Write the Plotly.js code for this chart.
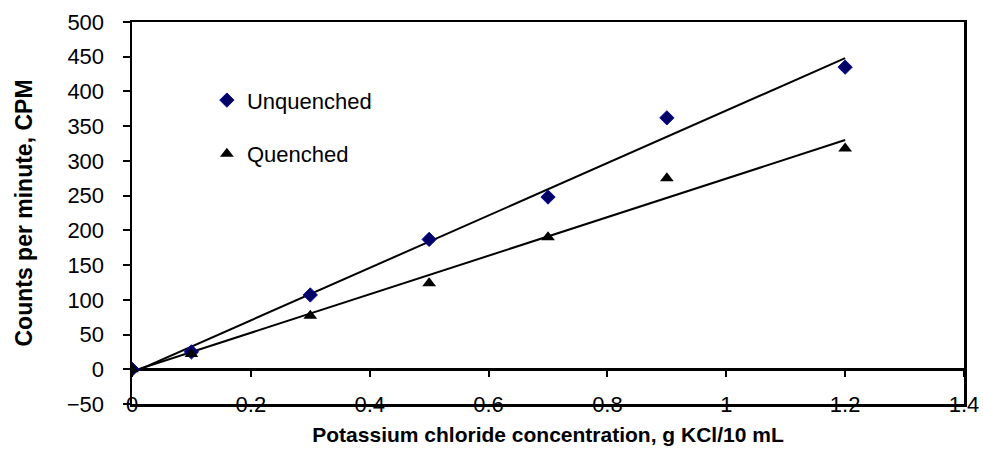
<!DOCTYPE html>
<html>
<head>
<meta charset="utf-8">
<script src="https://cdn.plot.ly/plotly-3.0.1.min.js"></script>
<style>html,body{margin:0;padding:0;background:#fff;}#chart{width:983px;height:461px;}</style>
</head>
<body>
<div id="chart"></div>
<script>
// Data
const concentration = [0, 0.1, 0.3, 0.5, 0.7, 0.9, 1.2];
const unquenchedCPM = [0, 25, 107, 187, 248, 362, 435];
const quenchedCPM   = [0, 22, 77, 124, 190, 275, 318];
// Linear trendline endpoints
const trendX = [0, 1.2];
const unquenchedTrend = [-5, 448];
const quenchedTrend   = [-3, 330];
const xTickVals = [0, 0.2, 0.4, 0.6, 0.8, 1, 1.2, 1.4];
const xTickText = ['0', '0.2', '0.4', '0.6', '0.8', '1', '1.2', '1.4'];

const FONT = 'Arial, "Liberation Sans", sans-serif';

const traces = [
  {x: trendX, y: unquenchedTrend, mode: 'lines', line: {color: '#000', width: 2}, showlegend: false, hoverinfo: 'skip'},
  {x: trendX, y: quenchedTrend, mode: 'lines', line: {color: '#000', width: 2}, showlegend: false, hoverinfo: 'skip'},
  {x: concentration, y: unquenchedCPM, name: 'Unquenched', mode: 'markers', legendgroup: 'a',
   marker: {symbol: 'diamond', size: 11, color: '#000066', line: {color: '#0a0aa0', width: 1}}},
  {x: concentration, y: quenchedCPM, name: 'Quenched', mode: 'markers', legendgroup: 'b',
   marker: {symbol: 'triangle-up', size: 12, color: '#000'}},
  // helper trace on overlay axis that carries the tick marks on the zero line
  {x: [0], y: [0], xaxis: 'x2', mode: 'markers', marker: {opacity: 0}, showlegend: false, hoverinfo: 'skip'}
];

const layout = {
  width: 983, height: 461,
  margin: {l: 132, r: 19, t: 22, b: 57},
  paper_bgcolor: '#fff', plot_bgcolor: '#fff',
  font: {family: FONT, color: '#000', size: 22},
  showlegend: true,
  legend: {x: 0.09, y: 0.85, xanchor: 'left', yanchor: 'top', bgcolor: 'rgba(0,0,0,0)',
           font: {family: FONT, size: 22, color: '#000'}, traceorder: 'grouped', tracegroupgap: 22,
           itemwidth: 30},
  xaxis: {
    range: [0, 1.4], tickvals: xTickVals, ticktext: xTickText,
    showgrid: false, zeroline: false,
    showline: true, mirror: true, linecolor: '#000', linewidth: 2.5,
    ticks: '', ticklabelstandoff: -21,
    tickfont: {family: FONT, size: 22, color: '#000'},
    title: {text: '<b>Potassium chloride concentration, g KCl/10 mL</b>', font: {family: FONT, size: 21, color: '#000'}, standoff: 12}
  },
  xaxis2: {
    overlaying: 'x', matches: 'x', anchor: 'free', position: 50/550, side: 'bottom',
    tickvals: xTickVals, showticklabels: false, ticks: 'outside', ticklen: 7, tickwidth: 2, tickcolor: '#000',
    showgrid: false, zeroline: false, showline: false
  },
  yaxis: {
    range: [-50, 500], dtick: 50, tick0: 0,
    showgrid: false, zeroline: true, zerolinecolor: '#000', zerolinewidth: 2.5,
    showline: true, mirror: true, linecolor: '#000', linewidth: 2.5,
    ticks: 'outside', ticklen: 7, tickwidth: 2, tickcolor: '#000', ticklabelstandoff: 14,
    tickfont: {family: FONT, size: 22, color: '#000'},
    title: {text: '<b>Counts per minute, CPM</b>', font: {family: FONT, size: 23, color: '#000'}, standoff: 28}
  }
};

Plotly.newPlot('chart', traces, layout, {displayModeBar: false, staticPlot: true});
</script>
</body>
</html>
